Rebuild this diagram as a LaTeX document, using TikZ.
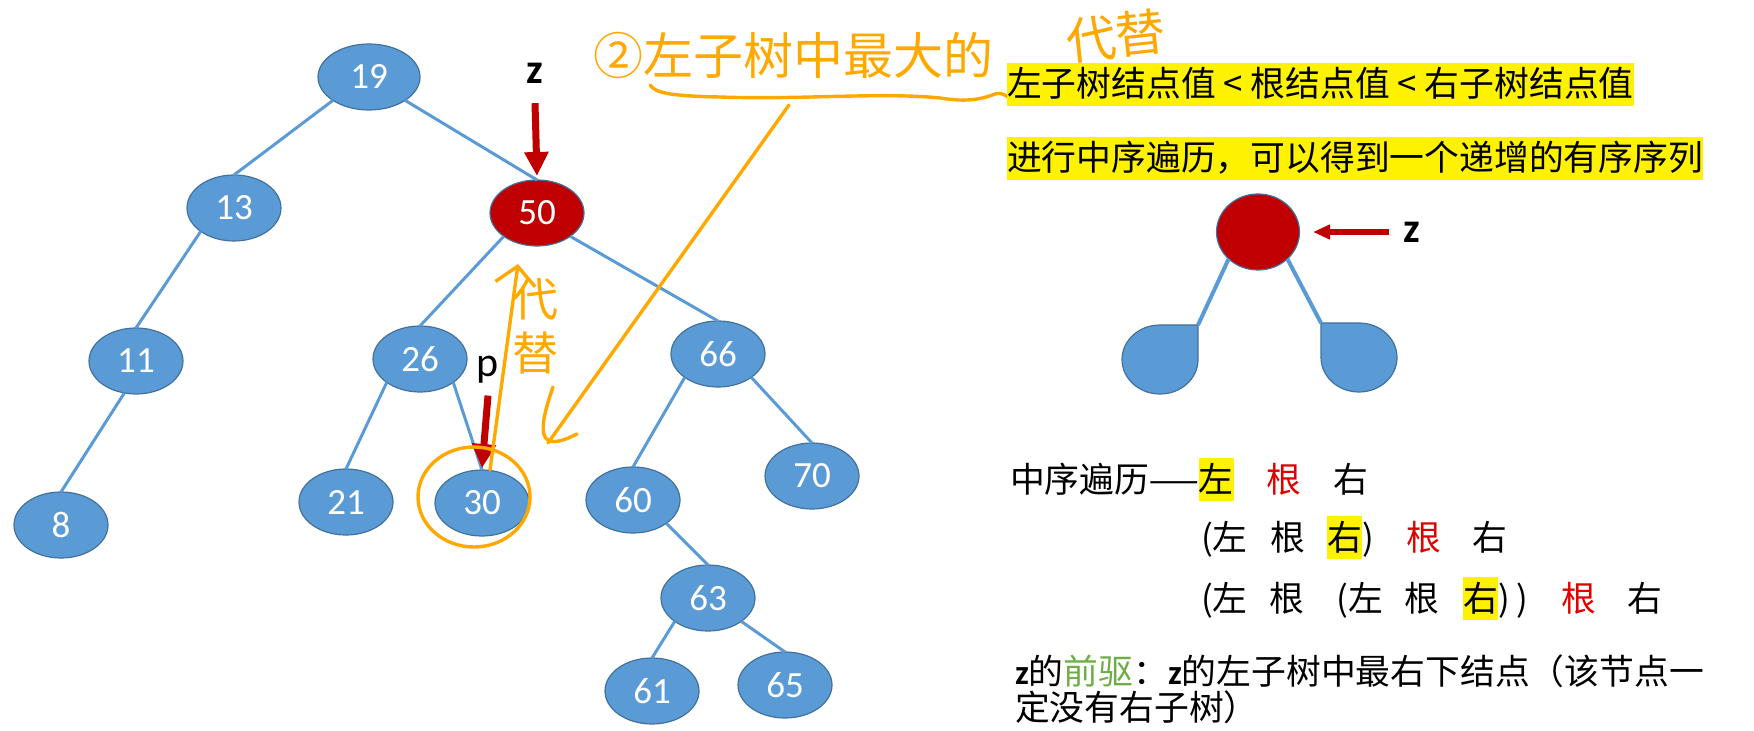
\documentclass[tikz,border=0pt]{standalone}
\usepackage{fontspec}
\setmainfont{Carlito}
\newfontfamily\cjk{Noto Sans CJK SC}
\usepackage{graphicx}
\usepackage{xcolor}
\usepackage{tikz}
\usetikzlibrary{arrows.meta}
\usetikzlibrary{shapes.geometric}

\definecolor{nodeblue}{HTML}{5B9BD5}
\definecolor{nodeline}{HTML}{41719C}
\definecolor{rootred}{HTML}{C00000}
\definecolor{textred}{HTML}{E00000}
\definecolor{predgreen}{HTML}{70AD47}
\definecolor{handorange}{RGB}{255,168,0}
\newcommand{\hlt}[1]{{\setlength{\fboxsep}{0pt}\colorbox{yellow}{\rule[-0.25em]{0pt}{1.24em}#1}}}

\begin{document}
\begin{tikzpicture}[x=0.5pt,y=-0.5pt]
  \tikzset{every node/.style={inner sep=0pt,outer sep=0pt}};
  \tikzset{tnode/.style={ellipse,draw=nodeline,line width=0.6pt,fill=nodeblue,minimum width=47pt,minimum height=33pt,text=white,font=\fontsize{18.5}{20}\selectfont}};
  \tikzset{tedge/.style={draw=nodeblue,line width=1.5pt}};
  \tikzset{ptr/.style={draw=rootred,line width=3.5pt,-{Triangle[width=11.5pt,length=12pt]}}};
  \tikzset{hand/.style={draw=handorange,line width=1.7pt,line cap=round,line join=round}};
  \tikzset{lbl/.style={font=\fontsize{21}{24}\selectfont}};
  \tikzset{cjkline/.style={anchor=base west,font=\cjk\fontsize{17.4}{20}\selectfont}};
  \tikzset{handtext/.style={text=handorange,font=\cjk\fontsize{25}{28}\selectfont}};
  \useasboundingbox (0,0) rectangle (1754,731);
  % search tree
  \node [tnode,minimum width=51pt] (n19) at (369,77) {19};
  \node [tnode] (n13) at (234,208) {13};
  \node [tnode,fill=rootred] (n50) at (537,213) {50};
  \node [tnode] (n11) at (136,361) {11};
  \node [tnode] (n26) at (420,359) {26};
  \node [tnode] (n66) at (718,354) {66};
  \node [tnode] (n8) at (61,525) {8};
  \node [tnode] (n21) at (346,502) {21};
  \node [tnode] (n30) at (482,503) {30};
  \node [tnode] (n60) at (633,500) {60};
  \node [tnode] (n70) at (812,476) {70};
  \node [tnode] (n63) at (708,598) {63};
  \node [tnode] (n61) at (652,691) {61};
  \node [tnode] (n65) at (785,685) {65};
  \path[tedge] (n19.south west) -- (n13.north);
  \path[tedge] (n19.south east) -- (n50.north);
  \path[tedge] (n13.south west) -- (n11.north);
  \path[tedge] (n11.250) -- (n8.north);
  \path[tedge] (n50.south west) -- (n26.north);
  \path[tedge] (n50.south east) -- (n66.north);
  \path[tedge] (n26.south west) -- (n21.north);
  \path[tedge] (n26.south east) -- (n30.north);
  \path[tedge] (n66.south west) -- (n60.north);
  \path[tedge] (n66.south east) -- (n70.north);
  \path[tedge] (n60.south east) -- (n63.north);
  \path[tedge] (n63.south west) -- (n61.north);
  \path[tedge] (n63.south east) -- (n65.north);
  \node [lbl,font=\fontsize{21}{24}\selectfont\bfseries] (zlab) at (535,73) {z};
  \node [lbl] (plab) at (488,370) {p};
  \path[ptr] ([yshift=-10pt]zlab.south) -- ([yshift=2pt]n50.north);
  \path[ptr] ([yshift=-6pt]plab.south) -- ([yshift=1pt]n30.north);
  % handwriting
  \node [handtext,anchor=west] (note) at (593,56) {②左子树中最大的};
  \node [handtext,rotate=6] (note2) at (1116,36) {代替};
  \node [handtext,font=\cjk\fontsize{23}{27}\selectfont,align=center] (rep) at (535,326) {代\\替};
  \path[hand] (650,85) .. controls (655,92) and (665,96) .. (720,97) .. controls (800,100) and (880,92) .. (940,98) .. controls (965,102) and (980,100) .. (995,94) .. controls (1000,92) and (1005,95) .. (1008,97);
  \path[hand] (789,105) -- (548,443);
  \path[hand] (553,387) .. controls (538,430) and (536,455) .. (577,434);
  \path[hand] (474,497) ellipse [x radius=28pt,y radius=25pt];
  \path[hand,-{Straight Barb[length=9pt,width=20pt]}] ([xshift=4pt]n30.north) -- ([shift={(-9.5pt,-9pt)}]n50.south);
  % small tree
  \node [ellipse,draw=nodeline,line width=0.6pt,fill=rootred,minimum width=41.5pt,minimum height=38pt] (zroot) at (1258,232) {};
  \coordinate (lcorner) at (1198,325);
  \coordinate (rcorner) at (1321,323);
  \path[draw=nodeline,fill=nodeblue,line width=0.6pt] (lcorner) -- ++(0,34.5) arc[start angle=0,end angle=-270,x radius=19pt,y radius=17.25pt] -- cycle;
  \path[draw=nodeline,fill=nodeblue,line width=0.6pt] (rcorner) -- ++(0,34.5) arc[start angle=180,end angle=450,x radius=19pt,y radius=17.25pt] -- cycle;
  \path[draw=nodeblue,line width=2pt] (zroot.south west) -- (lcorner);
  \path[draw=nodeblue,line width=2pt] (zroot.south east) -- (rcorner);
  \node [lbl,font=\fontsize{21}{24}\selectfont\bfseries] (zlab2) at (1412,232) {z};
  \path[draw=rootred,line width=3pt,-{Triangle[width=7pt,length=8.5pt]}] ([xshift=-7.5pt]zlab2.west) -- ([xshift=6.75pt]zroot.east);
  % texts
  \node [cjkline] (rule1) at (1007,97) {\hlt{左子树结点值 < 根结点值 < 右子树结点值}};
  \node [cjkline] (rule2) at (1007,171) {\hlt{进行中序遍历，可以得到一个递增的有序序列}};
  \node [cjkline] (ino1) at (1010,492) {中序遍历\scalebox{0.85}[1]{——}\hlt{左}\hspace{0.95em}{\color{textred}根}\hspace{0.93em}右};
  \node [cjkline] (ino2) at (1201,550) {(左\hspace{0.65em}根\hspace{0.64em}\hlt{右})\hspace{0.94em}{\color{textred}根}\hspace{0.9em}右};
  \node [cjkline] (ino3) at (1201,611) {(左\hspace{0.63em}根\hspace{0.93em}(左\hspace{0.6em}根\hspace{0.7em}\hlt{右})\hspace{0.2em})\hspace{0.94em}{\color{textred}根}\hspace{0.9em}右};
  \node [cjkline] (pred) at (1015,684) {{\normalfont\bfseries z}的{\color{predgreen}前驱}：{\normalfont\bfseries z}的左子树中最右下结点（该节点一};
  \node [cjkline] (pred2) at (1015,720) {定没有右子树）};
\end{tikzpicture}
\end{document}
